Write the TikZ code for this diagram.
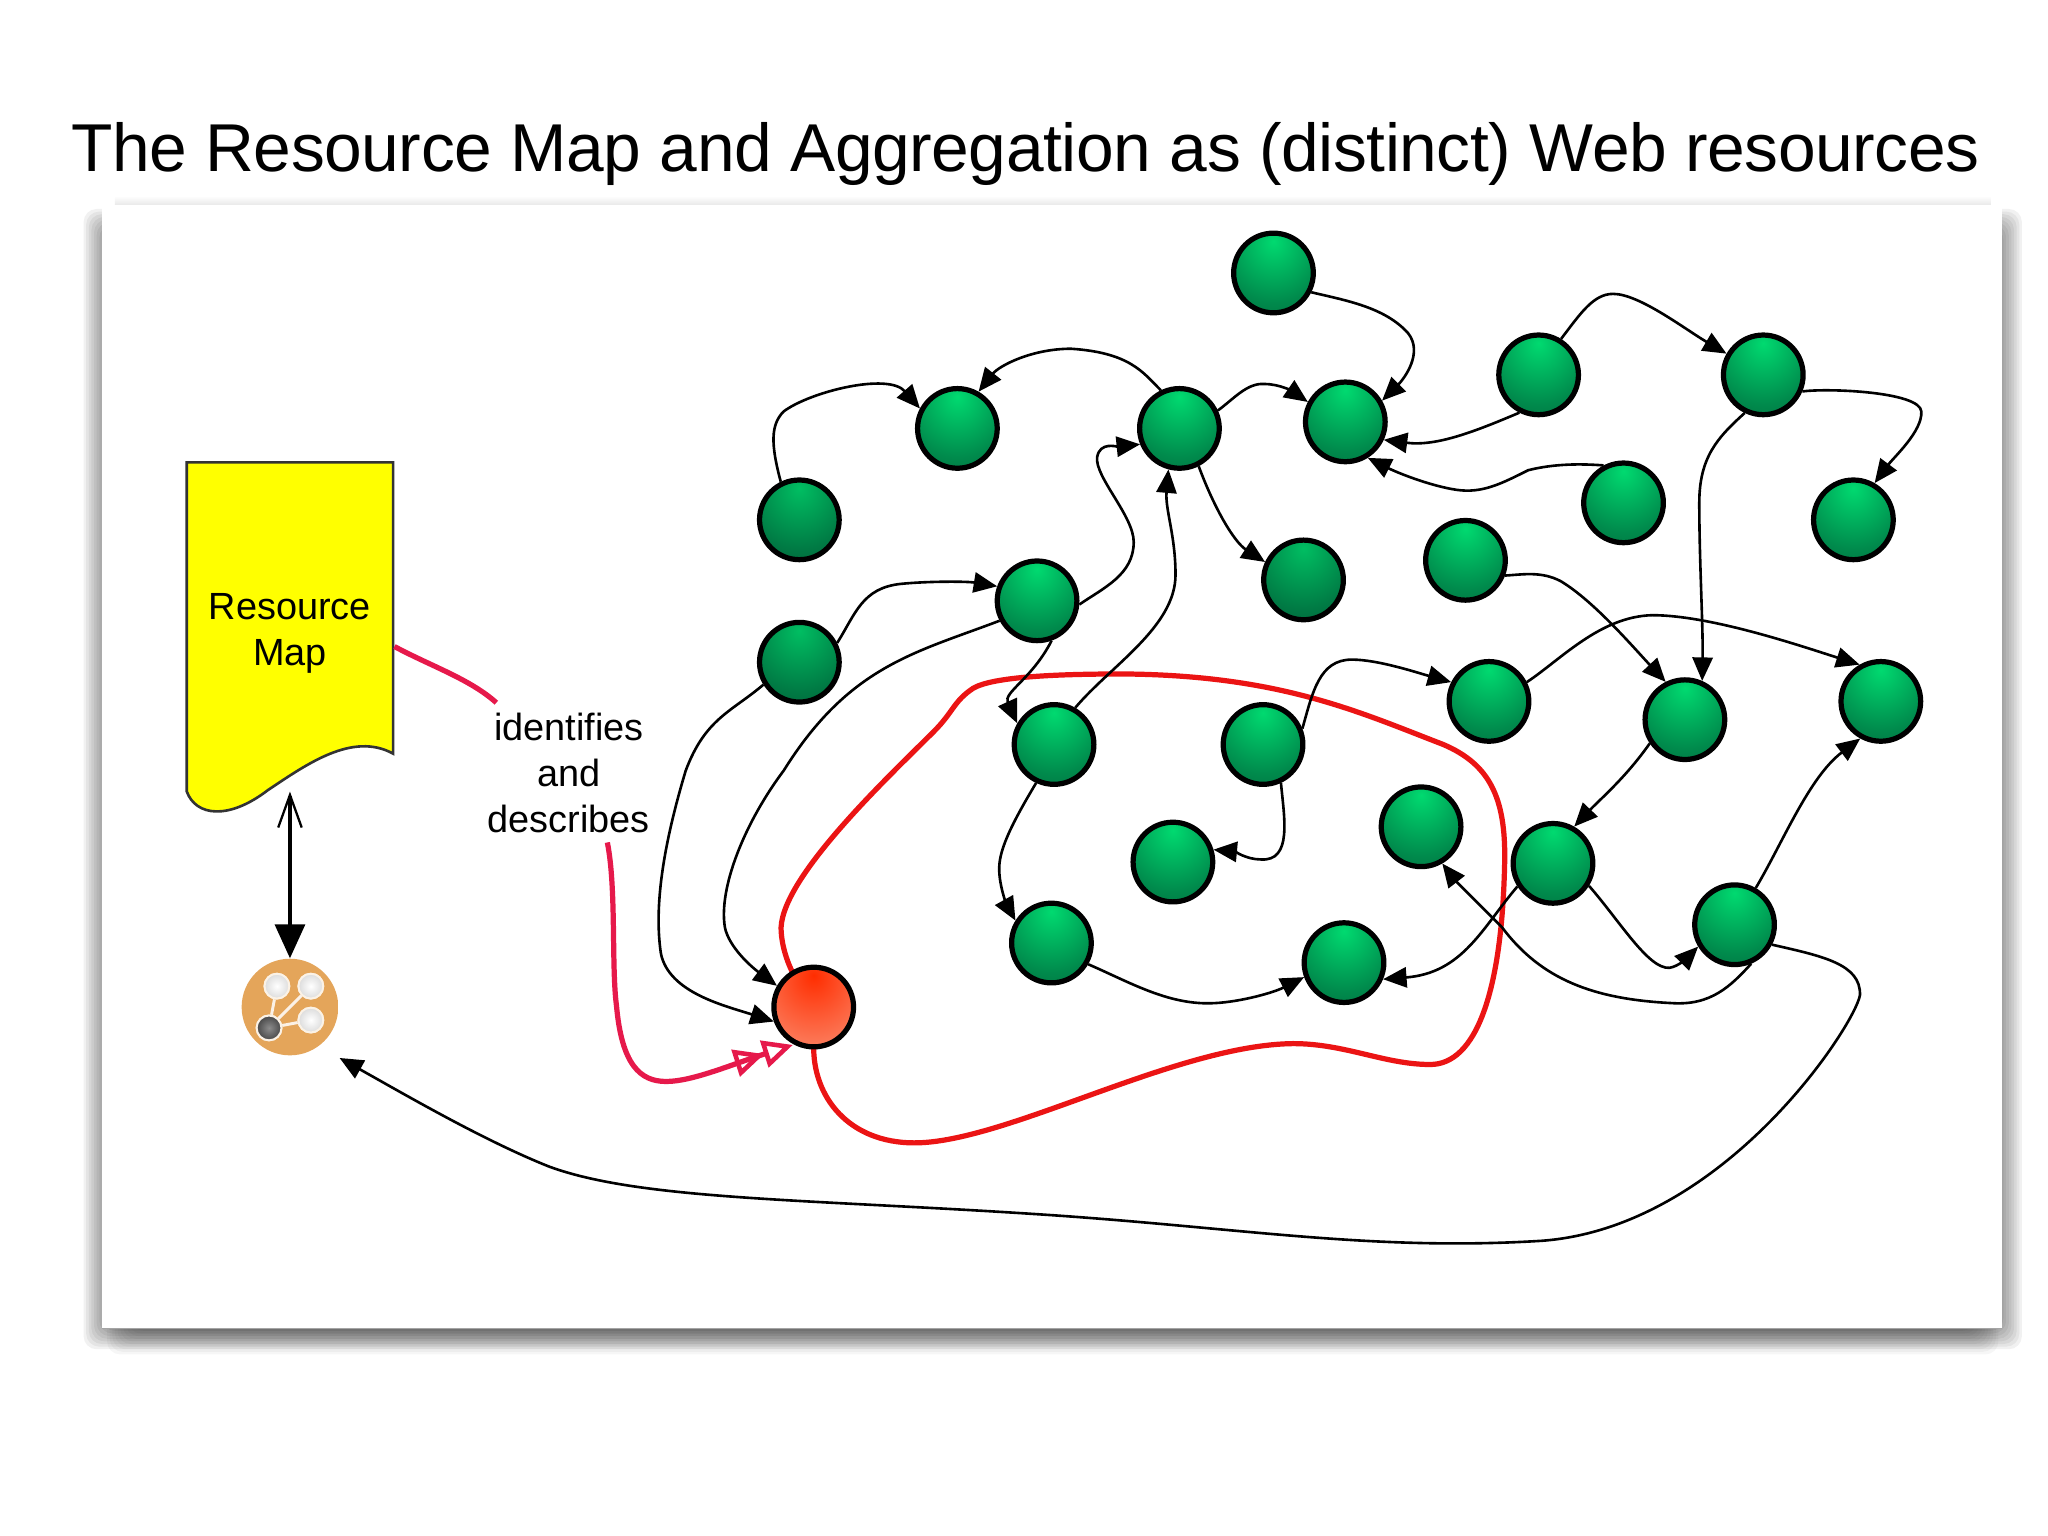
\documentclass[tikz,border=0pt]{standalone}
\usepackage{fontspec}
\setmainfont{Liberation Sans}
\newfontfamily\titlefont[LetterSpace=-0.6]{Liberation Sans}
\usetikzlibrary{arrows.meta,shadings}
\definecolor{gA}{RGB}{0,218,112}
\definecolor{gB}{RGB}{0,138,76}
\definecolor{gC}{RGB}{0,72,42}
\definecolor{hA}{RGB}{0,190,98}
\definecolor{hB}{RGB}{0,122,68}
\definecolor{hC}{RGB}{0,62,36}
\definecolor{rA}{RGB}{255,45,0}
\definecolor{rB}{RGB}{252,112,78}
\definecolor{rC}{RGB}{248,195,175}
\definecolor{tanA}{RGB}{228,165,90}
\definecolor{tanB}{RGB}{200,155,105}
\definecolor{pinkline}{RGB}{230,25,75}
\definecolor{redline}{RGB}{235,20,20}
\definecolor{docyellow}{RGB}{255,255,0}
\definecolor{shadowgray}{RGB}{125,125,125}
\pgfdeclareradialshading{gball}{\pgfpoint{0bp}{20bp}}{color(0bp)=(gA);color(32bp)=(gB);color(70bp)=(gC);color(100bp)=(gC)}
\pgfdeclareradialshading{hball}{\pgfpoint{0bp}{20bp}}{color(0bp)=(hA);color(32bp)=(hB);color(70bp)=(hC);color(100bp)=(hC)}
\pgfdeclareradialshading{rball}{\pgfpoint{0bp}{20bp}}{color(0bp)=(rA);color(32bp)=(rB);color(70bp)=(rC);color(100bp)=(rC)}
\pgfdeclareradialshading{tball}{\pgfpoint{0bp}{0bp}}{color(0bp)=(tanA);color(36bp)=(tanA);color(50bp)=(tanB);color(100bp)=(tanB)}
\pgfdeclareradialshading{wball}{\pgfpoint{0bp}{0bp}}{color(0bp)=(white);color(22bp)=(white!88!black);color(50bp)=(white!68!black);color(100bp)=(white!68!black)}
\pgfdeclareradialshading{kball}{\pgfpoint{0bp}{0bp}}{color(0bp)=(white!55!black);color(28bp)=(white!25!black);color(50bp)=(black!90);color(100bp)=(black)}
\tikzset{
  x=0.02cm,y=-0.02cm,
  greenball/.style={circle,draw=black,line width=0.08cm,minimum size=1.22cm,inner sep=0pt,shade,shading=gball},
  dimball/.style={greenball,shading=hball},
  redball/.style={greenball,shading=rball},
  arr/.style={draw=black,line width=0.04cm,-{Triangle[length=0.36cm,width=0.31cm]}},
  ringline/.style={draw=redline,line width=0.08cm},
  pinkpath/.style={draw=pinkline,line width=0.08cm},
  iconball/.style={circle,minimum size=0.38cm,inner sep=0pt,draw=white!85!tanA,line width=0.03cm,shade,shading=wball},
  label/.style={font=\fontsize{16.5}{20}\selectfont,align=center,inner sep=0pt},
}
\begin{document}
\begin{tikzpicture}
\useasboundingbox (0,0) rectangle (1568,1176);
% soft shadow of the slide card, built from stacked translucent layers
\foreach \e in {-8,-6,...,8} {
  \fill[black,opacity=0.055,rounded corners=0.2cm] ({72-\e},{168-\e}) rectangle ({1540+\e},{1025+\e});
}
\foreach \e in {-10,-8,...,10} {
  \fill[black,opacity=0.035,rounded corners=0.2cm] ({92-\e},{900}) rectangle ({1520+\e},{1027+\e});
}
\shade[top color=white,bottom color=black!9] (88,150) rectangle (1524,157);
\fill[white] (78,157) rectangle (1533,1017);
\draw[shadowgray!70,line width=0.02cm] (78,1017) -- (1533,1017);
% title
\node[anchor=base,inner sep=0pt,font=\titlefont\fontsize{29.5}{36}\selectfont] (title) at (785,131) {The Resource Map and Aggregation as (distinct) Web resources};
% green nodes
\node[greenball] (n1) at (975,209) {};
\node[greenball] (n2) at (733,328) {};
\node[greenball] (n3) at (903,328) {};
\node[greenball] (n4) at (1030,323) {};
\node[greenball] (n5) at (1178,287) {};
\node[greenball] (n6) at (1350,287) {};
\node[dimball] (n7) at (612,398) {};
\node[greenball] (n8) at (1243,385) {};
\node[greenball] (n9) at (1419,398) {};
\node[dimball] (n10) at (998,444) {};
\node[greenball] (n11) at (1122,429) {};
\node[greenball] (n12) at (794,460) {};
\node[dimball] (n13) at (612,507) {};
\node[greenball] (n14) at (807,570) {};
\node[greenball] (n15) at (967,570) {};
\node[greenball] (n16) at (1140,537) {};
\node[greenball] (n17) at (1290,551) {};
\node[greenball] (n18) at (1440,537) {};
\node[greenball] (n19) at (898,660) {};
\node[greenball] (n20) at (1088,633) {};
\node[greenball] (n21) at (1189,661) {};
\node[greenball] (n22) at (805,722) {};
\node[greenball] (n23) at (1029,737) {};
\node[greenball] (n24) at (1328,708) {};
% red ring, drawn under the red node
\draw[ringline] (623,800) .. controls (622,840) and (650,875) .. (700,875)
  .. controls (770,875) and (900,800) .. (990,799)
  .. controls (1030,799) and (1060,815) .. (1095,815)
  .. controls (1130,815) and (1150,760) .. (1152,660)
  .. controls (1153,610) and (1140,585) .. (1105,570)
  .. controls (1040,545) and (980,517) .. (860,516)
  .. controls (810,516) and (760,518) .. (745,527)
  .. controls (730,537) and (730,545) .. (715,560)
  .. controls (680,595) and (600,670) .. (598,710)
  .. controls (598,722) and (602,735) .. (607,745);
\node[redball] (res) at (623,771) {};
% connectors
\draw[arr] (n1.-27) .. controls (1030,230) and (1060,235) .. (1078,255) .. controls (1090,270) and (1075,290) .. (n4.30);
\draw[arr] (n7.116) .. controls (590,340) and (590,325) .. (600,315) .. controls (620,300) and (680,285) .. (n2.152);
\draw[arr] (n3.116) .. controls (875,285) and (865,270) .. (820,267) .. controls (790,267) and (765,280) .. (n2.60);
\draw[arr] (n3.25) .. controls (945,305) and (955,293) .. (968,294) .. controls (980,294) and (990,300) .. (n4.152);
\draw[arr] (n3.-63) .. controls (930,390) and (945,415) .. (n10.155);
\draw[arr] (n5.-117) .. controls (1130,330) and (1100,342) .. (n4.-25);
\draw[arr] (n8.118) .. controls (1210,355) and (1190,355) .. (1170,360) .. controls (1150,370) and (1135,378) .. (1115,375) .. controls (1095,372) and (1070,362) .. (n4.-58);
\draw[arr] (n5.58) .. controls (1210,240) and (1220,225) .. (1235,225) .. controls (1255,225) and (1290,252) .. (n6.150);
\draw[arr] (n6.-23) .. controls (1400,297) and (1470,300) .. (1471,315) .. controls (1472,330) and (1450,350) .. (n9.60);
\draw[arr] (n6.-116) .. controls (1315,335) and (1301,350) .. (1301,385) .. controls (1301,430) and (1304,480) .. (n17.66);
\draw[arr] (n11.-21) .. controls (1165,440) and (1180,437) .. (1195,445) .. controls (1220,460) and (1250,495) .. (n17.117);
\draw[arr] (n16.27) .. controls (1195,505) and (1225,472) .. (1265,471) .. controls (1310,471) and (1380,495) .. (n18.120);
\draw[arr] (n15.22) .. controls (1005,530) and (1010,505) .. (1035,505) .. controls (1055,505) and (1085,515) .. (n16.153);
\draw[arr] (n15.-65) .. controls (983,625) and (990,660) .. (965,658) .. controls (955,658) and (945,652) .. (n19.17);
\draw[arr] (n14.-115) .. controls (775,630) and (765,650) .. (765,665) .. controls (765,680) and (772,695) .. (n22.148);
\draw[arr] (n14.60) .. controls (850,510) and (900,480) .. (900,440) .. controls (900,410) and (892,390) .. (n3.-105);
\draw[arr] (n12.-5) .. controls (845,450) and (868,440) .. (868,415) .. controls (868,395) and (838,365) .. (840,350) .. controls (842,338) and (855,342) .. (n3.-158);
\draw[arr] (n13.27) .. controls (655,470) and (660,450) .. (690,447) .. controls (710,445) and (740,445) .. (n12.160);
\draw[arr] (n12.-70) .. controls (790,520) and (768,530) .. (n14.150);
\draw[arr] (n13.-148) .. controls (560,545) and (540,550) .. (525,590) .. controls (510,640) and (500,690) .. (506,730) .. controls (512,760) and (555,770) .. (res.-160);
\draw[arr] (n12.-152) .. controls (700,500) and (650,510) .. (600,590) .. controls (570,630) and (550,680) .. (555,710) .. controls (558,725) and (575,740) .. (res.150);
\draw[arr] (n17.-146) .. controls (1245,595) and (1225,612) .. (n21.60);
\draw[arr] (n21.-147) .. controls (1135,710) and (1120,745) .. (n23.-23);
\draw[arr] (n21.-32) .. controls (1240,705) and (1262,742) .. (1278,741) .. controls (1285,740) and (1292,733) .. (n24.-149);
\draw[arr] (n22.-30) .. controls (865,752) and (895,770) .. (930,768) .. controls (950,767) and (975,760) .. (n23.-160);
\draw[arr] (n24.-67) .. controls (1325,755) and (1310,770) .. (1280,768) .. controls (1220,765) and (1180,750) .. (1150,710) .. controls (1130,690) and (1115,675) .. (n20.-60);
\draw[arr] (n24.60) .. controls (1365,645) and (1385,595) .. (n18.-119);
% resource map document
\draw[draw=black!80,line width=0.04cm,fill=docyellow] (143,354) -- (301,354) -- (301,577)
  .. controls (270,560) and (235,585) .. (205,605)
  .. controls (175,628) and (150,625) .. (143,606) -- cycle;
\node[label] (rmtext) at (222,485) {Resource\\Map};
% REM icon
\node[circle,minimum size=1.48cm,inner sep=0pt,shade,shading=tball] (rem) at (222,771) {};
\node[iconball] (ia) at (212,755) {};
\node[iconball] (ib) at (238,755) {};
\node[iconball] (ic) at (238,781) {};
\node[iconball,shading=kball] (id) at (206,787) {};
\draw[white!85!tanA,line width=0.045cm] (id) -- (ia) (id) -- (ib) (id) -- (ic);
\node[iconball] at (ia) {};
\node[iconball] at (ib) {};
\node[iconball] at (ic) {};
\node[iconball,shading=kball] at (id) {};
% document to REM
\coordinate (docbot) at (222,606);
\draw[line width=0.05cm,{Straight Barb[length=0.5cm,width=0.36cm,line width=0.035cm]}-{Triangle[length=0.52cm,width=0.46cm]}] (docbot) -- (rem.north);
% long connector to REM
\coordinate (remtip) at (260,810);
\draw[arr] (n24.-28) .. controls (1395,732) and (1425,738) .. (1424,762)
  .. controls (1420,785) and (1320,940) .. (1180,950)
  .. controls (1050,958) and (950,940) .. (800,930)
  .. controls (620,918) and (490,919) .. (420,893)
  .. controls (370,873) and (310,838) .. (remtip);
% identifies and describes
\node[label] (lbl) at (435.5,592) {identifies\\and\\describes};
\coordinate (docout) at (302,495);
\coordinate (lblin) at (380,538);
\coordinate (lblout) at (465,645);
\coordinate (restip) at (607,800);
\draw[pinkpath] (docout) .. controls (330,510) and (360,520) .. (lblin);
\draw[pinkpath,-{Triangle[open,length=0.46cm,width=0.42cm,line width=0.07cm]Triangle[open,length=0.46cm,width=0.42cm,line width=0.07cm]}] (lblout) .. controls (472,680) and (468,740) .. (472,770) .. controls (476,815) and (490,828) .. (510,828) .. controls (530,828) and (560,815) .. (restip);
\end{tikzpicture}
\end{document}
